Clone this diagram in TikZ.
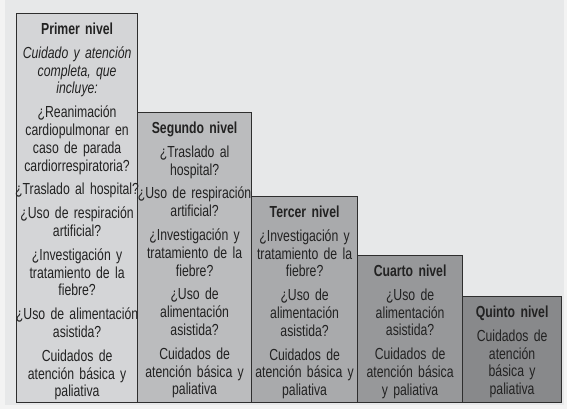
\documentclass[tikz,border=0pt]{standalone}
\usepackage{fontspec}
\setmainfont{Liberation Sans}[FakeStretch=0.765]
\usetikzlibrary{calc}
\definecolor{bgc}{HTML}{E7E8E9}
\definecolor{outc}{HTML}{F3F3F3}
\definecolor{cA}{HTML}{D4D5D7}
\definecolor{cB}{HTML}{BBBCBE}
\definecolor{cC}{HTML}{A9AAAC}
\definecolor{cD}{HTML}{97989A}
\definecolor{cE}{HTML}{88898B}
\definecolor{edge}{HTML}{2E2E2E}
\definecolor{ink}{HTML}{222222}
\tikzset{
  lvlbox/.style={draw=edge, line width=1.2pt, rectangle, inner sep=0pt, anchor=north west},
  lvltext/.style={font=\fontsize{16}{17.8}\selectfont, text=ink, align=center, text width=150pt, inner sep=0pt, anchor=base},
}
\newcommand{\gp}{\\[6pt]}
\begin{document}
\begin{tikzpicture}[x=1pt,y=-1pt]
\useasboundingbox (0,0) rectangle (567,409);
\fill[outc] (0,0) rectangle (567,409);
\fill[bgc] (5,0) rectangle (564,405);
\node[lvlbox, fill=cA, minimum width=121pt, minimum height=389pt] (b1) at (16,13) {};
\node[lvlbox, fill=cB, minimum width=114pt, minimum height=290pt] (b2) at (137,112) {};
\node[lvlbox, fill=cC, minimum width=106pt, minimum height=206pt] (b3) at (251,196) {};
\node[lvlbox, fill=cD, minimum width=105pt, minimum height=147pt] (b4) at (357,255) {};
\node[lvlbox, fill=cE, minimum width=99pt, minimum height=106pt] (b5) at (462,296) {};
\node[lvltext] (t1) at ($(b1.north)+(0,21.5)$) {\textbf{Primer nivel}\gp
\textit{Cuidado y atención}\\\textit{completa, que}\\\textit{incluye:}\gp
¿Reanimación\\cardiopulmonar en\\caso de parada\\cardiorrespiratoria?\gp
¿Traslado al hospital?\gp
¿Uso de respiración\\artificial?\gp
¿Investigación y\\tratamiento de la\\fiebre?\gp
¿Uso de alimentación\\asistida?\gp
Cuidados de\\atención básica y\\paliativa};
\node[lvltext] (t2) at ($(b2.north)+(0,21.5)$) {\textbf{Segundo nivel}\gp
¿Traslado al\\hospital?\gp
¿Uso de respiración\\artificial?\gp
¿Investigación y\\tratamiento de la\\fiebre?\gp
¿Uso de\\alimentación\\asistida?\gp
Cuidados de\\atención básica y\\paliativa};
\node[lvltext] (t3) at ($(b3.north)+(0,21.5)$) {\textbf{Tercer nivel}\gp
¿Investigación y\\tratamiento de la\\fiebre?\gp
¿Uso de\\alimentación\\asistida?\gp
Cuidados de\\atención básica y\\paliativa};
\node[lvltext] (t4) at ($(b4.north)+(0,21.5)$) {\textbf{Cuarto nivel}\gp
¿Uso de\\alimentación\\asistida?\gp
Cuidados de\\atención básica\\y paliativa};
\node[lvltext] (t5) at ($(b5.north)+(0,21.5)$) {\textbf{Quinto nivel}\gp
Cuidados de\\atención\\básica y\\paliativa};
\end{tikzpicture}
\end{document}
